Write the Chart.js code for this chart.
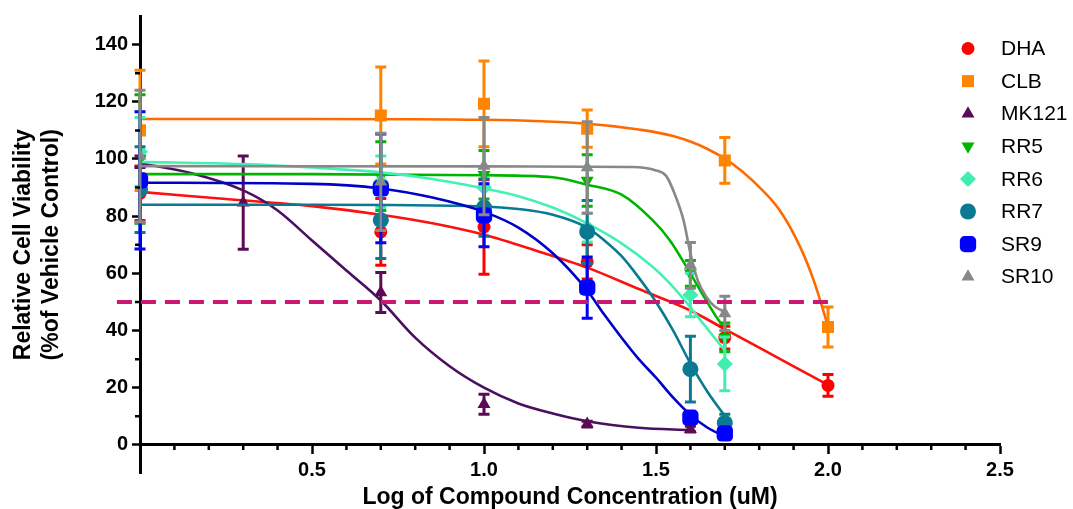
<!DOCTYPE html>
<html>
<head>
<meta charset="utf-8">
<script src="https://cdn.jsdelivr.net/npm/chart.js@4.4.1/dist/chart.umd.min.js"></script>
<style>
  body { margin: 0; background: #fff; }
  canvas { display: block; }
</style>
</head>
<body>
<canvas id="chart" width="1073" height="509"></canvas>
<script>
"use strict";

// series names, in legend order
const seriesNames = ["DHA", "CLB", "MK121", "RR5", "RR6", "RR7", "SR9", "SR10"];

// log concentrations measured for each group of series
const concDhaClb = [0, 0.7, 1.0, 1.3, 1.7, 2.0];
const concMk = [0, 0.3, 0.7, 1.0, 1.3, 1.6];
const concRest = [0, 0.7, 1.0, 1.3, 1.6, 1.7];

// means and error bars
const dhaMean = [88, 74.5, 76.2, 64, 37.5, 20.8];
const dhaErr = [9.5, 11.7, 16.5, 6, 4, 3.8];
const clbMean = [110, 115.2, 119.3, 110.6, 99.5, 41.2];
const clbErr = [21, 17, 15, 6.5, 8, 7];
const mkMean = [99, 84.7, 53.3, 14.2, 7.3, 5.5];
const mkErr = [2, 16.3, 7, 3.5, 1, 1];
const rr5Mean = [100, 94, 94.5, 92.5, 60, 37.6];
const rr5Err = [22.5, 12, 8.5, 9, 4.5, 5];
const rr6Mean = [102.5, 92, 90, 76, 52.4, 28.3];
const rr6Err = [12, 9, 7, 5, 7.6, 9.4];
const rr7Mean = [89.3, 78.6, 83, 74.5, 26.5, 7.7];
const rr7Err = [15, 13.4, 10, 11, 11.5, 3];
const sr9Mean = [92.5, 89.7, 80.3, 55, 9.5, 4];
const sr9Err = [24, 19, 11, 10.7, 2, 1.5];
const sr10Mean = [101, 92, 97.5, 97, 62.8, 46];
const sr10Err = [23, 17, 17, 16, 8, 6];

// fitted curves
const dhaFitX = [0, 0.25, 0.5, 0.7, 0.85, 1.0, 1.15, 1.3, 1.45, 1.6, 1.7, 1.8, 1.9, 2.0];
const dhaFitY = [88.5, 86, 83.5, 80.5, 77.5, 73.5, 68, 62, 54.5, 47, 40.5, 34, 27.5, 21];
const clbFitX = [0, 0.5, 1.0, 1.3, 1.45, 1.55, 1.65, 1.72, 1.78, 1.86, 1.92, 1.96, 2.0];
const clbFitY = [114, 114, 113.7, 112.3, 110.3, 108, 103.5, 98.5, 92.5, 82, 69, 57, 41.5];
const mkFitX = [0, 0.15, 0.3, 0.4, 0.5, 0.6, 0.7, 0.8, 0.9, 1.0, 1.1, 1.2, 1.3, 1.45, 1.6];
const mkFitY = [98.5, 95, 89, 82, 71.5, 61, 50.5, 37.5, 27.5, 20, 14.5, 11, 8.3, 6, 5.2];
const rr5FitX = [0, 0.5, 1.0, 1.2, 1.3, 1.4, 1.49, 1.54, 1.59, 1.64, 1.686, 1.7];
const rr5FitY = [94.7, 94.7, 94.3, 93.6, 91, 87.5, 78.6, 71.6, 62, 51.7, 43, 41.5];
const rr6FitX = [0, 0.3, 0.5, 0.7, 0.85, 1.0, 1.1, 1.2, 1.3, 1.4, 1.49, 1.54, 1.59, 1.64, 1.7];
const rr6FitY = [99, 98.2, 97, 95.3, 93, 89.7, 87, 83, 77.5, 70.5, 62.3, 56.5, 49.6, 42, 33];
const rr7FitX = [0, 0.5, 1.0, 1.1, 1.2, 1.3, 1.35, 1.4, 1.45, 1.5, 1.55, 1.6, 1.65, 1.715];
const rr7FitY = [84, 84, 83.4, 82.5, 80.5, 76, 71.5, 66, 58.5, 50, 40, 28.5, 18.5, 7.7];
const sr9FitX = [0, 0.5, 0.7, 0.85, 1.0, 1.1, 1.2, 1.3, 1.35, 1.4, 1.45, 1.5, 1.55, 1.6, 1.65, 1.7];
const sr9FitY = [91.7, 91.3, 89.7, 86.5, 81.5, 76, 67, 54, 45.5, 37.5, 30, 23.5, 16.5, 10.5, 6, 3];
const sr10FitX = [0, 1.0, 1.3, 1.43, 1.5, 1.53, 1.56, 1.58, 1.6, 1.62, 1.645, 1.67, 1.7];
const sr10FitY = [97.5, 97.4, 97.3, 97.2, 96, 94, 86, 78.6, 67, 58, 52, 48.5, 46.5];

// 50% reference line
const halfLineX = [-0.067, 2.0];
const halfLineY = [50, 50];

// axis ticks
const xTickValues = [0.5, 1.0, 1.5, 2.0, 2.5];
const xMinorTicks = [0.1, 0.2, 0.3, 0.4, 0.6, 0.7, 0.8, 0.9, 1.1, 1.2, 1.3, 1.4, 1.6, 1.7, 1.8, 1.9, 2.1, 2.2, 2.3, 2.4];
const yTickValues = [0, 20, 40, 60, 80, 100, 120, 140];
const yMinorTicks = [10, 30, 50, 70, 90, 110, 130];

function zip(xs, ys) {
    return xs.map(function(v, i) { return { x: v, y: ys[i] }; });
}

const FONT = "Arial, 'Liberation Sans', sans-serif";

// per series: points, errors, curve, looks
let series = [
    { x: concDhaClb, mean: dhaMean, err: dhaErr, fx: dhaFitX, fy: dhaFitY,
      color: "#ff0000", line: "#ff1010", style: "circle", r: 6.5, rot: 0 },
    { x: concDhaClb, mean: clbMean, err: clbErr, fx: clbFitX, fy: clbFitY,
      color: "#ff8400", line: "#ff6a00", style: "rect", r: 8.5, rot: 0 },
    { x: concMk, mean: mkMean, err: mkErr, fx: mkFitX, fy: mkFitY,
      color: "#5c0a55", line: "#4a1060", style: "triangle", r: 7.5, rot: 0 },
    { x: concRest, mean: rr5Mean, err: rr5Err, fx: rr5FitX, fy: rr5FitY,
      color: "#00b400", line: "#00b400", style: "triangle", r: 7.5, rot: 180 },
    { x: concRest, mean: rr6Mean, err: rr6Err, fx: rr6FitX, fy: rr6FitY,
      color: "#40eeb0", line: "#44f0b4", style: "rectRot", r: 8, rot: 0 },
    { x: concRest, mean: rr7Mean, err: rr7Err, fx: rr7FitX, fy: rr7FitY,
      color: "#0a7a92", line: "#0a7a92", style: "circle", r: 8, rot: 0 },
    { x: concRest, mean: sr9Mean, err: sr9Err, fx: sr9FitX, fy: sr9FitY,
      color: "#0000ff", line: "#0000c8", style: "rectRounded", r: 9.5, rot: 0 },
    { x: concRest, mean: sr10Mean, err: sr10Err, fx: sr10FitX, fy: sr10FitY,
      color: "#888888", line: "#888888", style: "triangle", r: 7.5, rot: 0 }
];

let datasets = [];
series.forEach(function(s, i) {
    // later series sit on top, like the original
    datasets.push({
        label: seriesNames[i] + " fit",
        data: zip(s.fx, s.fy),
        showLine: true,
        borderColor: s.line,
        borderWidth: 2.6,
        pointRadius: 0,
        cubicInterpolationMode: "monotone",
        order: (8 - i) * 2 + 1
    });
    datasets.push({
        label: seriesNames[i],
        data: zip(s.x, s.mean),
        errors: s.err,
        backgroundColor: s.color,
        borderColor: s.color,
        borderWidth: 0,
        pointStyle: s.style,
        pointRadius: s.r,
        pointRotation: s.rot,
        showLine: false,
        legendMark: true,
        order: (8 - i) * 2
    });
});

datasets.push({
    label: "50%",
    data: zip(halfLineX, halfLineY),
    showLine: true,
    borderColor: "#cc1670",
    borderWidth: 4,
    borderDash: [15, 9],
    pointRadius: 0,
    clip: false,
    order: 0
});


// error bars, drawn just under each point set
const errorBars = {
    id: "errorBars",
    beforeDatasetDraw(chart, args) {
        let ds = chart.data.datasets[args.index];
        if (!ds.errors) return;
        let ctx = chart.ctx;
        let xs = chart.scales.x, ys = chart.scales.y;
        ctx.save();
        ctx.strokeStyle = ds.backgroundColor;
        ctx.lineWidth = 3;
        ds.data.forEach(function(p, i) {
            let e = ds.errors[i];
            let px = xs.getPixelForValue(p.x);
            let top = ys.getPixelForValue(p.y + e);
            let bot = ys.getPixelForValue(p.y - e);
            ctx.beginPath();
            ctx.moveTo(px, top); ctx.lineTo(px, bot);
            ctx.moveTo(px - 5.5, top); ctx.lineTo(px + 5.5, top);
            ctx.moveTo(px - 5.5, bot); ctx.lineTo(px + 5.5, bot);
            ctx.stroke();
        });
        ctx.restore();
    }
};

// short minor ticks on both axes
const minorTicks = {
    id: "minorTicks",
    afterDraw(chart) {
        let ctx = chart.ctx;
        let xs = chart.scales.x, ys = chart.scales.y;
        let y0 = ys.getPixelForValue(0);
        let left = chart.chartArea.left;
        ctx.save();
        ctx.strokeStyle = "#000";
        ctx.lineWidth = 2.5;
        ctx.beginPath();
        xMinorTicks.forEach(function(v) {
            let px = xs.getPixelForValue(v);
            ctx.moveTo(px, y0); ctx.lineTo(px, y0 + 5);
        });
        yMinorTicks.forEach(function(v) {
            let py = ys.getPixelForValue(v);
            ctx.moveTo(left, py); ctx.lineTo(left - 5, py);
        });
        ctx.stroke();
        ctx.restore();
    }
};

// legend inside the plot, top right
const sideLegend = {
    id: "sideLegend",
    afterDraw(chart) {
        let ctx = chart.ctx;
        let rowY = 48.5;
        ctx.save();
        ctx.font = "21px " + FONT;
        ctx.textBaseline = "middle";
        chart.data.datasets.forEach(function(ds) {
            if (!ds.legendMark) return;
            ctx.fillStyle = ds.backgroundColor;
            Chart.helpers.drawPoint(ctx, {
                pointStyle: ds.pointStyle,
                rotation: ds.pointRotation,
                radius: ds.pointRadius,
                borderWidth: 0
            }, 968, rowY);
            ctx.fillStyle = "#000";
            ctx.fillText(ds.label, 1001, rowY + 1);
            rowY += 32.6;
        });
        ctx.restore();
    }
};


new Chart(document.getElementById("chart"), {
    type: "scatter",
    data: { datasets: datasets },
    plugins: [errorBars, minorTicks, sideLegend],
    options: {
        responsive: false,
        animation: false,
        devicePixelRatio: 1,
        layout: { padding: { top: 15, right: 73, bottom: 35.5, left: 0 } },
        plugins: {
            legend: { display: false },
            tooltip: { enabled: false }
        },
        scales: {
            x: {
                type: "linear",
                min: 0,
                max: 2.5,
                position: { y: 0 },
                afterBuildTicks: function(scale) {
                    scale.ticks = xTickValues.map(function(v) { return { value: v }; });
                },
                afterFit: function(scale) { scale.height = 35.5; },
                grid: { drawOnChartArea: false, tickLength: 8, tickWidth: 2.5, tickColor: "#000" },
                border: { color: "#000", width: 3 },
                ticks: {
                    color: "#000",
                    padding: 6,
                    maxRotation: 0,
                    font: { family: FONT, size: 20, weight: "bold" },
                    callback: function(v) { return Number(v).toFixed(1); }
                },
                title: {
                    display: true,
                    text: "Log of Compound Concentration (uM)",
                    color: "#000",
                    font: { family: FONT, size: 23, weight: "bold", lineHeight: 1.2 },
                    padding: { top: 0, bottom: -31 }
                }
            },
            y: {
                type: "linear",
                min: -10,
                max: 150,
                position: "left",
                afterBuildTicks: function(scale) {
                    scale.ticks = yTickValues.map(function(v) { return { value: v }; });
                },
                afterFit: function(scale) { scale.width = 140; },
                grid: { drawOnChartArea: false, tickLength: 8, tickWidth: 2.5, tickColor: "#000" },
                border: { color: "#000", width: 3 },
                ticks: {
                    color: "#000",
                    padding: 4,
                    font: { family: FONT, size: 20, weight: "bold" }
                },
                title: {
                    display: true,
                    text: ["Relative Cell Viability", "(%of Vehicle Control)"],
                    color: "#000",
                    font: { family: FONT, size: 23, weight: "bold", lineHeight: 1.2 },
                    padding: { top: 10, bottom: 0 }
                }
            }
        }
    }
});
</script>
</body>
</html>
